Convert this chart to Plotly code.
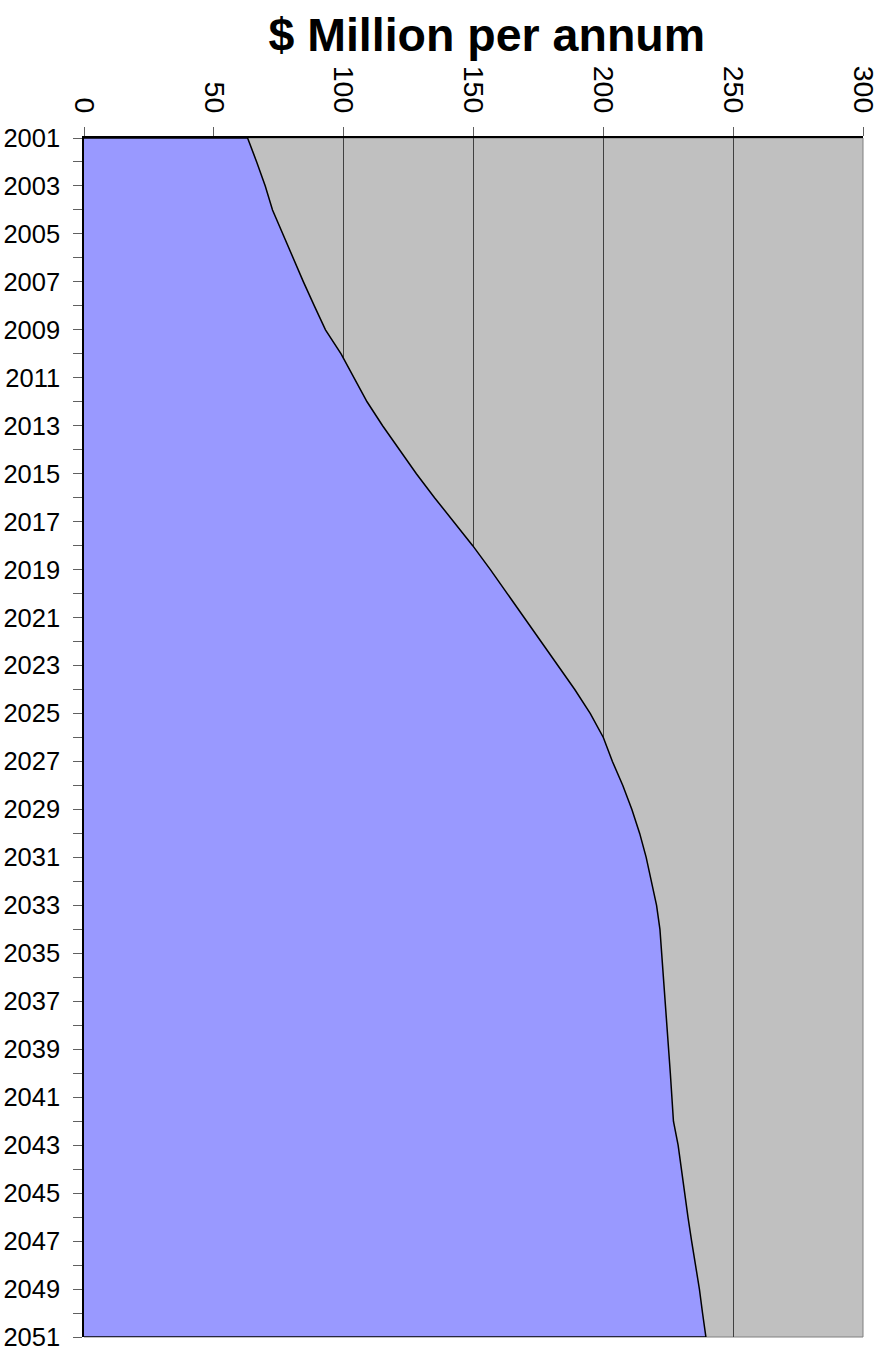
import plotly.graph_objects as go

years = list(range(2001, 2052))
values = [63, 66.5, 69.8, 72.6, 76.5, 80.5, 84.5, 88.7, 93, 99,
          104, 109, 115, 121.5, 128, 135, 142.5, 149.7, 156.5, 163,
          169.5, 176, 182.5, 189, 195, 200, 203.5, 207.5, 211, 214,
          216.5, 218.6, 220.5, 221.8, 222.5, 223.2, 223.8, 224.4, 225.2, 225.8,
          226.4, 227, 228.8, 230, 231.3, 232.6, 234, 235.5, 237, 238.2,
          239.5]
x_ticks = [0, 50, 100, 150, 200, 250, 300]
y_ticktext = [str(y) if (y - 2001) % 2 == 0 else "" for y in years]

poly_x = [0] + values + [0]
poly_y = [years[0]] + years + [years[-1]]

FONT = "Liberation Sans, Arial, sans-serif"

fig = go.Figure()
fig.add_trace(go.Scatter(
    x=poly_x, y=poly_y, mode="lines", fill="toself",
    fillcolor="#9999FF", line=dict(color="black", width=1.5),
    hoverinfo="skip", showlegend=False,
))

fig.update_layout(
    width=882, height=1353,
    margin=dict(l=84, r=19, t=138, b=16),
    paper_bgcolor="white", plot_bgcolor="#C0C0C0",
    font=dict(family=FONT, color="black", size=25),
    title=dict(text="<b>$ Million per annum</b>", x=0.517, xref="paper", xanchor="center",
               y=0.974, yref="container", yanchor="middle",
               font=dict(size=46.5, family=FONT)),
    xaxis=dict(side="top", range=[0, 300], tickmode="array", tickvals=x_ticks,
               ticktext=[str(v) for v in x_ticks], tickangle=90,
               tickfont=dict(size=28.5, family=FONT),
               showgrid=True, gridcolor="#404040", gridwidth=1,
               ticks="outside", ticklen=9, tickcolor="#606060",
               showline=True, linecolor="black", linewidth=1.5,
               zeroline=False, ticklabelstandoff=4, automargin=False),
    yaxis=dict(range=[2051, 2001], tickmode="array", tickvals=years,
               ticktext=y_ticktext, showgrid=False,
               tickfont=dict(size=25.5, family=FONT),
               ticks="outside", ticklen=9, tickcolor="#606060",
               showline=True, linecolor="black", linewidth=1.5,
               zeroline=False, ticklabelstandoff=8, automargin=False),
)
fig.add_shape(type="rect", xref="paper", yref="paper", x0=0, y0=0, x1=1, y1=1,
              line=dict(color="#808080", width=1), layer="below")

fig.write_html("out.html", config={"displayModeBar": False},
               post_script="document.body.style.margin='0';document.body.style.overflow='hidden';")
